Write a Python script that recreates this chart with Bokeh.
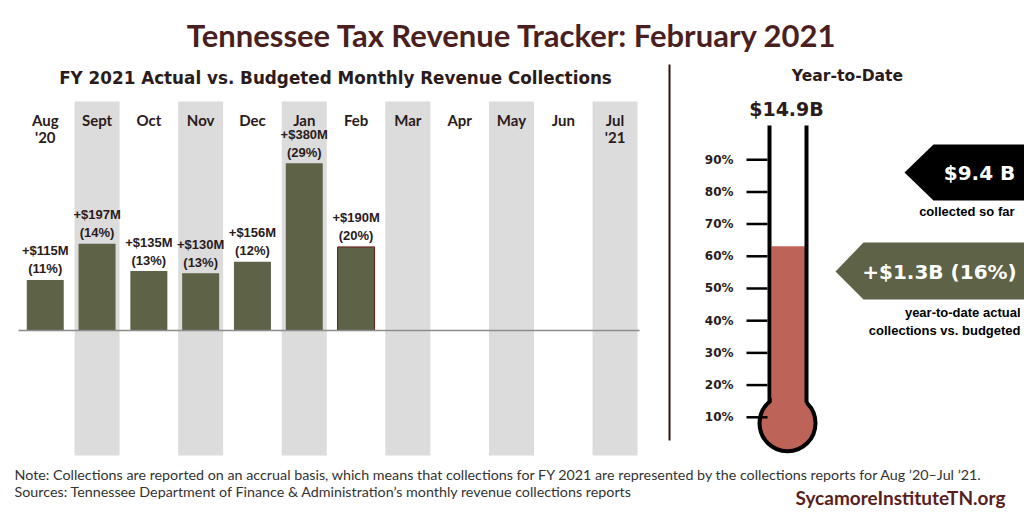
from bokeh.plotting import figure
from bokeh.models import Range1d, ColumnDataSource
from bokeh.core.properties import value
from bokeh.embed import file_html
from bokeh.resources import INLINE

# ---------------- data ----------------
months = ["Aug\n'20", "Sept", "Oct", "Nov", "Dec", "Jan", "Feb", "Mar", "Apr", "May", "Jun", "Jul\n'21"]
month_idx = list(range(len(months)))
shaded_idx = [1, 3, 5, 7, 9, 11]
diff_musd = [115, 197, 135, 130, 156, 380, 190]        # actual minus budgeted, $M
diff_pct = [11, 14, 13, 13, 12, 29, 20]                # % above budget
ytd_collected_b = 9.4
ytd_budget_b = 14.9
ytd_diff_label = "+$1.3B (16%)"
therm_ticks = [10, 20, 30, 40, 50, 60, 70, 80, 90]

TITLE = "Tennessee Tax Revenue Tracker: February 2021"
SUBTITLE = "FY 2021 Actual vs. Budgeted Monthly Revenue Collections"
NOTE = ("Note: Collections are reported on an accrual basis, which means that collections for FY 2021 "
        "are represented by the collections reports for Aug \u201920\u2013Jul \u201921.")
SOURCES = "Sources: Tennessee Department of Finance & Administration\u2019s monthly revenue collections reports"

# ---------------- styles ----------------
GREEN = "#5e6246"
RED = "#bd6358"
GRAY = "#dcdcdc"
DARK = "#2b1b1b"
MAROON = "#4b1f1f"
HEAD = "Lato"
WIDE = "DejaVu Sans"
ARIAL = "Liberation Sans"

p = figure(width=1024, height=512, x_range=Range1d(0, 1024), y_range=Range1d(512, 0),
           output_backend="svg", toolbar_location=None, min_border=0,
           x_axis_type=None, y_axis_type=None)
p.grid.visible = False
p.outline_line_color = None
p.background_fill_color = "white"

# scales for the bar panel and thermometer
p.extra_x_ranges = {"month": Range1d(-0.8639, 18.904)}
p.extra_y_ranges = {"usd": Range1d(-413.6, 750.0), "pct": Range1d(-19.57, 139.44)}

# ---------------- titles ----------------
p.text(x=[512], y=[34], text=[TITLE], text_font=value(HEAD), text_font_style="bold",
       text_font_size="31px", text_color=MAROON, text_align="center", text_baseline="middle")
p.text(x=[335], y=[77], text=[SUBTITLE], text_font=value(WIDE), text_font_style="bold",
       text_font_size="16.8px", text_color=DARK, text_align="center", text_baseline="middle")
p.text(x=[847], y=[75], text=["Year-to-Date"], text_font=value(WIDE), text_font_style="bold",
       text_font_size="15.6px", text_color=DARK, text_align="center", text_baseline="middle")

# divider
p.segment(x0=[669], y0=[64], x1=[669], y1=[440], line_color="#2b1410", line_width=2)

# ---------------- monthly bars ----------------
p.vbar(x=shaded_idx, width=0.869, bottom=455, top=101, fill_color=GRAY, line_color=None,
       x_range_name="month")
n = len(diff_musd)
bar_src = ColumnDataSource(dict(
    x=month_idx[:n], top=diff_musd,
    line=[None] * (n - 1) + ["#6b1a1a"],
    vlab=["+$%dM" % v for v in diff_musd],
    plab=["(%d%%)" % v for v in diff_pct],
))
p.vbar(x="x", top="top", bottom=0, width=0.714, fill_color=GREEN, line_color="line",
       line_width=1, source=bar_src, x_range_name="month", y_range_name="usd")
p.segment(x0=[18], x1=[639], y0=[0], y1=[0], line_color="#8c8c8c", line_width=1.5,
          y_range_name="usd")
p.text(x="x", y="top", text="plab", source=bar_src, x_range_name="month", y_range_name="usd",
       text_font=value(ARIAL), text_font_style="bold", text_font_size="13px", text_color=DARK,
       text_align="center", text_baseline="middle", y_offset=-11)
p.text(x="x", y="top", text="vlab", source=bar_src, x_range_name="month", y_range_name="usd",
       text_font=value(ARIAL), text_font_style="bold", text_font_size="13px", text_color=DARK,
       text_align="center", text_baseline="middle", y_offset=-29)
p.text(x=month_idx, y=[110] * len(months), text=months, x_range_name="month",
       text_font=value(HEAD), text_font_style="bold", text_font_size="15px", text_color=DARK,
       text_align="center", text_baseline="top", text_line_height=0.95)

# ---------------- thermometer ----------------
fill_pct = ytd_collected_b / ytd_budget_b * 100
p.circle(x=[787], y=[422.7], radius=28, fill_color=RED, line_color="black", line_width=4)
p.vbar(x=[788], width=34, bottom=10, top=fill_pct, fill_color=RED, line_color=None,
       y_range_name="pct")
p.segment(x0=[769, 806], x1=[769, 806], y0=[125, 125], y1=[402, 402],
          line_color="black", line_width=4)
p.segment(x0=[746] * len(therm_ticks), x1=[767] * len(therm_ticks), y0=therm_ticks, y1=therm_ticks,
          line_color="black", line_width=2.5, y_range_name="pct")
p.text(x=[733] * len(therm_ticks), y=therm_ticks, text=["%d%%" % t for t in therm_ticks],
       y_range_name="pct", text_font=value(WIDE), text_font_style="bold", text_font_size="12px",
       text_color=DARK, text_align="right", text_baseline="middle")
p.text(x=[786], y=[108], text=["$%.1fB" % ytd_budget_b], text_font=value(WIDE),
       text_font_style="bold", text_font_size="19px", text_color=DARK, text_align="center",
       text_baseline="middle")

# arrows
p.patch(x=[904, 933, 1024, 1024, 933], y=[172, 144, 144, 200, 200], fill_color="black", line_color=None)
p.patch(x=[835, 863, 1024, 1024, 863], y=[271, 242, 242, 299, 299], fill_color=GREEN, line_color=None)
p.text(x=[979], y=[172], text=["$%.1f B" % ytd_collected_b], text_font=value(WIDE),
       text_font_style="bold", text_font_size="20px", text_color="white", text_align="center",
       text_baseline="middle")
p.text(x=[939], y=[271], text=[ytd_diff_label], text_font=value(WIDE),
       text_font_style="bold", text_font_size="20px", text_color="white", text_align="center",
       text_baseline="middle")
p.text(x=[1014, 1020, 1020], y=[211, 312, 330],
       text=["collected so far", "year-to-date actual", "collections vs. budgeted"],
       text_font=value(ARIAL), text_font_style="bold", text_font_size="13px", text_color="black",
       text_align="right", text_baseline="middle")

# ---------------- footer ----------------
p.text(x=[14, 14], y=[474, 491], text=[NOTE, SOURCES], text_font=value(HEAD),
       text_font_size="14.3px", text_color="#333333", text_align="left", text_baseline="middle")
p.text(x=[1005], y=[497], text=["SycamoreInstituteTN.org"], text_font=value(HEAD),
       text_font_style="bold", text_font_size="19px", text_color="#5a1e1e", text_align="right",
       text_baseline="middle")

open("out.html", "w").write(file_html(p, INLINE))
